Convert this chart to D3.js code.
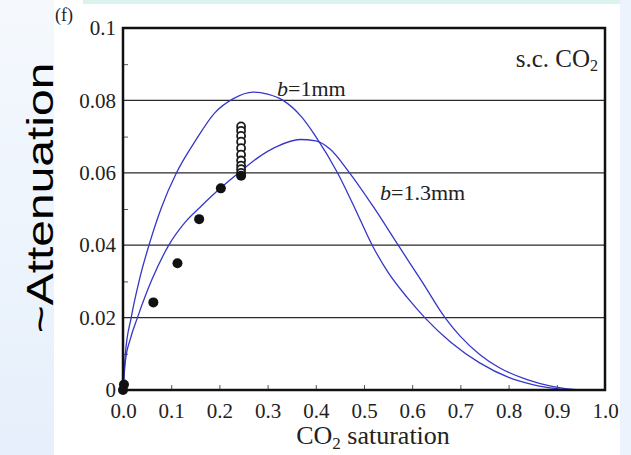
<!DOCTYPE html>
<html>
<head>
<meta charset="utf-8">
<script src="https://cdn.jsdelivr.net/npm/d3@7/dist/d3.min.js"></script>
<style>
body{margin:0;padding:0;overflow:hidden;background:#fff;}
svg{display:block;}
.tk{font-family:"Liberation Serif","Times New Roman",serif;font-size:21px;fill:#222;}
</style>
</head>
<body>
<svg id="chart" width="631" height="455"></svg>
<script>
// values
var satTicks = [0,0.1,0.2,0.3,0.4,0.5,0.6,0.7,0.8,0.9,1.0];
var attTicks = [0,0.02,0.04,0.06,0.08,0.1];
var attLabels = ["0","0.02","0.04","0.06","0.08","0.1"];
var gridVals = [0.02,0.04,0.06,0.08];
var minorVals = [0.01,0.03,0.05,0.07,0.09];

var sat1mm = [0,0.005,0.017,0.035,0.055,0.08,0.111,0.15,0.19,0.229,0.27,0.30,0.332,0.37,0.40,0.445,0.48,0.517,0.55,0.59,0.626,0.68,0.74,0.80,0.85,0.90,0.94,1.0];
var att1mm = [0,0.010,0.020,0.031,0.0405,0.0505,0.060,0.0688,0.0765,0.0805,0.0823,0.0817,0.080,0.0755,0.070,0.060,0.0505,0.040,0.0325,0.0255,0.020,0.0132,0.0075,0.0035,0.0015,0.0004,0,0];

var sat13mm = [0,0.005,0.015,0.03,0.06,0.095,0.13,0.16,0.20,0.243,0.28,0.32,0.367,0.40,0.43,0.47,0.52,0.571,0.62,0.668,0.70,0.74,0.78,0.84,0.89,0.94,0.96,1.0];
var att13mm = [0,0.008,0.014,0.020,0.0305,0.040,0.0465,0.0505,0.0555,0.0603,0.0642,0.0673,0.0692,0.0688,0.0665,0.060,0.0505,0.040,0.030,0.020,0.0148,0.0098,0.0062,0.0028,0.0010,0.0001,0,0];

var filledSat = [0,0.002,0.063,0.113,0.158,0.203,0.245];
var filledAtt = [0,0.0015,0.0242,0.035,0.0472,0.0557,0.0592];
var openSat = [0.245,0.245,0.245,0.245,0.245,0.245,0.245,0.245,0.245,0.245];
var openAtt = [0.0728,0.0716,0.0702,0.0686,0.0668,0.065,0.0634,0.062,0.061,0.060];

var svg = d3.select("#chart");

// page background pieces
var defs = svg.append("defs");
var lg = defs.append("linearGradient").attr("id","side").attr("x1",0).attr("y1",0).attr("x2",0).attr("y2",1);
lg.append("stop").attr("offset","0").attr("stop-color","#f5f9fe");
lg.append("stop").attr("offset","1").attr("stop-color","#e6effb");
svg.append("rect").attr("x",0).attr("y",0).attr("width",54).attr("height",455).attr("fill","url(#side)");
svg.append("rect").attr("x",620).attr("y",0).attr("width",11).attr("height",455).attr("fill","#edf3fc");
svg.append("rect").attr("x",83).attr("y",0).attr("width",537).attr("height",4).attr("fill","#dcf2ee");

var pLeft = 123, pRight = 605, pTop = 28, pBottom = 390;
var x = d3.scaleLinear().domain([0,1]).range([pLeft,pRight]);
var y = d3.scaleLinear().domain([0,0.1]).range([pBottom,pTop]);

// grid lines
svg.append("g").selectAll("line").data(gridVals).join("line")
  .attr("x1",pLeft).attr("x2",pRight)
  .attr("y1",d=>y(d)).attr("y2",d=>y(d))
  .attr("stroke","#2a2a2a").attr("stroke-width",1.3);

// inside ticks
var yMinor = d3.axisRight(y).tickValues(minorVals).tickSize(5).tickFormat("");
svg.append("g").attr("transform","translate("+pLeft+",0)").call(yMinor)
  .call(g=>g.select(".domain").remove())
  .selectAll("line").attr("stroke","#555");
var xIn = d3.axisTop(x).tickValues(satTicks.slice(1,-1)).tickSize(5).tickFormat("");
svg.append("g").attr("transform","translate(0,"+pBottom+")").call(xIn)
  .call(g=>g.select(".domain").remove())
  .selectAll("line").attr("stroke","#555");

// tick labels
var xAx = d3.axisBottom(x).tickValues(satTicks).tickSize(0).tickPadding(13).tickFormat(d3.format(".1f"));
svg.append("g").attr("transform","translate(0,"+pBottom+")").call(xAx)
  .call(g=>g.select(".domain").remove())
  .selectAll("text").attr("class","tk").attr("font-family",null).attr("font-size",null);
var yAx = d3.axisLeft(y).tickValues(attTicks).tickSize(0).tickPadding(7).tickFormat((d,i)=>attLabels[i]);
svg.append("g").attr("transform","translate("+pLeft+",0)").call(yAx)
  .call(g=>g.select(".domain").remove())
  .selectAll("text").attr("class","tk").attr("font-family",null).attr("font-size",null);

// curves
var line = d3.line().x(d=>x(d[0])).y(d=>y(d[1])).curve(d3.curveMonotoneX);
svg.append("path").datum(d3.zip(sat1mm,att1mm)).attr("d",line)
  .attr("fill","none").attr("stroke","#3636c8").attr("stroke-width",1.3);
svg.append("path").datum(d3.zip(sat13mm,att13mm)).attr("d",line)
  .attr("fill","none").attr("stroke","#3636c8").attr("stroke-width",1.3);

// data points
svg.append("g").selectAll("circle").data(d3.zip(openSat,openAtt)).join("circle")
  .attr("cx",d=>x(d[0])).attr("cy",d=>y(d[1])).attr("r",4)
  .attr("fill","#fff").attr("stroke","#1a1a1a").attr("stroke-width",1.8);
svg.append("g").selectAll("circle").data(d3.zip(filledSat,filledAtt)).join("circle")
  .attr("cx",d=>x(d[0])).attr("cy",d=>y(d[1])).attr("r",5)
  .attr("fill","#111");

// frame
svg.append("rect").attr("x",pLeft).attr("y",pTop).attr("width",pRight-pLeft).attr("height",pBottom-pTop)
  .attr("fill","none").attr("stroke","#111").attr("stroke-width",2.5);

// annotations
var serif = "Liberation Serif, Times New Roman, serif";
svg.append("text").attr("x",55).attr("y",21).attr("font-family",serif).attr("font-size",18).attr("fill","#222").text("(f)");

var sc = svg.append("text").attr("x",598).attr("y",67).attr("text-anchor","end")
  .attr("font-family",serif).attr("font-size",25).attr("fill","#222");
sc.append("tspan").text("s.c. CO");
sc.append("tspan").attr("font-size",16).attr("dy",4).text("2");

var t1 = svg.append("text").attr("x",277).attr("y",96).attr("font-family",serif).attr("font-size",22).attr("fill","#222");
t1.append("tspan").attr("font-style","italic").text("b");
t1.append("tspan").text("=1mm");
var t2 = svg.append("text").attr("x",380).attr("y",200).attr("font-family",serif).attr("font-size",22).attr("fill","#222");
t2.append("tspan").attr("font-style","italic").text("b");
t2.append("tspan").text("=1.3mm");

var xt = svg.append("text").attr("x",373).attr("y",444).attr("text-anchor","middle")
  .attr("font-family",serif).attr("font-size",26).attr("fill","#222");
xt.append("tspan").text("CO");
xt.append("tspan").attr("font-size",17).attr("dy",5).text("2");
xt.append("tspan").attr("dy",-5).text(" saturation");

svg.append("text").attr("transform","translate(53,198) rotate(-90) scale(1.09,0.85)").attr("text-anchor","middle")
  .attr("font-family","Liberation Sans, Arial, sans-serif").attr("font-size",44).attr("fill","#000")
  .text("~Attenuation");
</script>
</body>
</html>
